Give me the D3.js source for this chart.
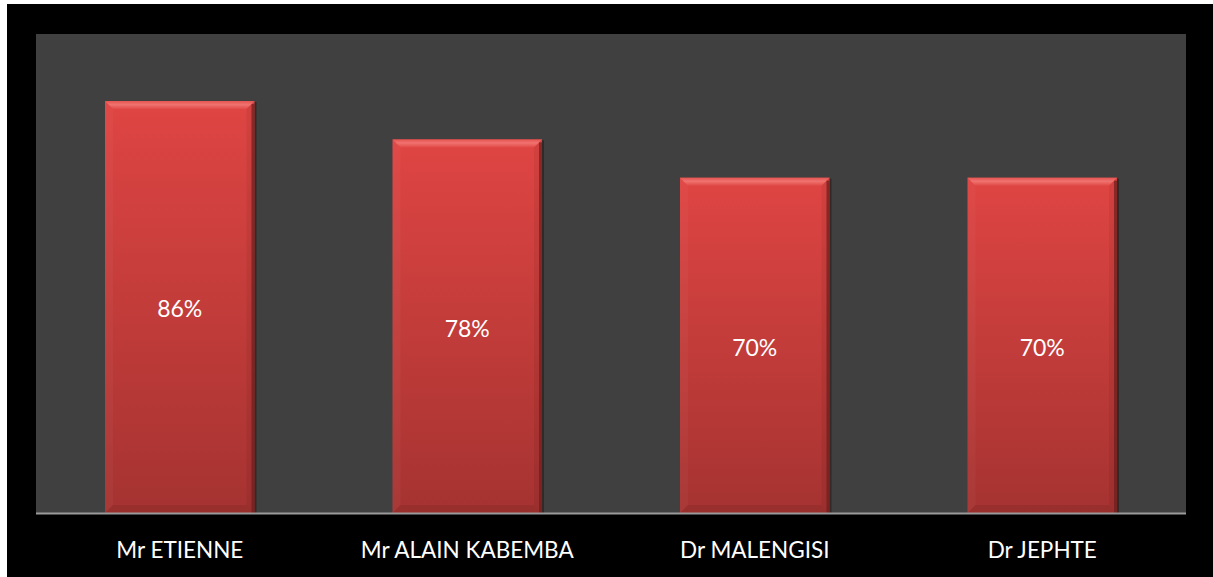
<!DOCTYPE html>
<html><head><meta charset="utf-8">
<script src="https://cdn.jsdelivr.net/npm/d3@7"></script>
<style>
html,body{margin:0;padding:0;background:#fff;}
svg{display:block;}
</style></head>
<body>
<svg id="chart" width="1213" height="577"></svg>
<script>
const categories = ["Mr ETIENNE", "Mr ALAIN KABEMBA", "Dr MALENGISI", "Dr JEPHTE"];
const values = [86, 78, 70, 70];
const valueLabels = ["86%", "78%", "70%", "70%"];

const W = 1213, H = 577;
const svg = d3.select("#chart");
const font = "Lato, 'Open Sans', sans-serif";

svg.append("rect").attr("x",0).attr("y",0).attr("width",W).attr("height",H).attr("fill","#fff");
svg.append("rect").attr("x",7).attr("y",4).attr("width",W-7).attr("height",H-4).attr("fill","#000");

const plot = {left:36, top:34, right:1186, bottom:513};
svg.append("rect").attr("x",plot.left).attr("y",plot.top)
  .attr("width",plot.right-plot.left).attr("height",plot.bottom-plot.top).attr("fill","#404040");

const x = d3.scaleBand().domain(categories).range([plot.left, plot.right]).paddingInner(0.48).paddingOuter(0.24);
const y = d3.scaleLinear().domain([0,100]).range([plot.bottom, plot.top]);

const defs = svg.append("defs");
const g1 = defs.append("linearGradient").attr("id","barGrad").attr("x1",0).attr("y1",0).attr("x2",0).attr("y2",1);
g1.append("stop").attr("offset","0%").attr("stop-color","#df4543");
g1.append("stop").attr("offset","100%").attr("stop-color","#a53331");
const gTop = defs.append("linearGradient").attr("id","topGrad").attr("x1",0).attr("y1",0).attr("x2",0).attr("y2",1);
gTop.append("stop").attr("offset","0%").attr("stop-color","#e55451");
gTop.append("stop").attr("offset","45%").attr("stop-color","#f07370");
gTop.append("stop").attr("offset","100%").attr("stop-color","#e04a47");

const bars = svg.append("g").selectAll("g").data(categories).join("g");
const bev = 8;
bars.each(function(c, i){
  const g = d3.select(this);
  const x0 = x(c), w = x.bandwidth(), y0 = y(values[i]), y1 = y(0);
  g.append("rect").attr("x",x0+1).attr("y",y0+1).attr("width",w+1).attr("height",y1-y0-1).attr("fill","#2a1a1a").attr("opacity",0.6);
  g.append("rect").attr("x",x0).attr("y",y0).attr("width",w).attr("height",y1-y0).attr("fill","url(#barGrad)");
  g.append("path").attr("d",`M${x0},${y0}L${x0+w},${y0}L${x0+w-bev},${y0+bev}L${x0+bev},${y0+bev}Z`).attr("fill","url(#topGrad)");
  g.append("path").attr("d",`M${x0},${y0}L${x0+bev},${y0+bev}L${x0+bev},${y1-bev}L${x0},${y1}Z`).attr("fill","#ffffff").attr("opacity",0.03);
  g.append("path").attr("d",`M${x0+w},${y0}L${x0+w-bev},${y0+bev}L${x0+w-bev},${y1-bev}L${x0+w},${y1}Z`).attr("fill","#000").attr("opacity",0.06);
  g.append("path").attr("d",`M${x0},${y1}L${x0+bev},${y1-bev}L${x0+w-bev},${y1-bev}L${x0+w},${y1}Z`).attr("fill","#000").attr("opacity",0.08);
  g.append("rect").attr("x",x0+w-3).attr("y",y0+3).attr("width",3).attr("height",y1-y0-3).attr("fill","#6a1e1c").attr("opacity",0.7);
  g.append("text").attr("x",x0+w/2).attr("y",(y0+y1)/2).attr("text-anchor","middle").attr("dy","0.45em")
    .attr("fill","#fff").attr("font-family",font).attr("font-size",23).text(valueLabels[i]);
});

svg.append("line").attr("x1",plot.left).attr("x2",plot.right).attr("y1",plot.bottom+0.5).attr("y2",plot.bottom+0.5)
  .attr("stroke","#9a9a9a").attr("stroke-width",2);

const xAxis = d3.axisBottom(x).tickSize(0).tickPadding(0);
const ax = svg.append("g").attr("transform",`translate(0,${plot.bottom})`).call(xAxis);
ax.select(".domain").remove();
ax.selectAll("text").attr("fill","#fff").attr("font-family",font).attr("font-size",22.5).attr("dy",0).attr("y",45);
</script>
</body></html>
